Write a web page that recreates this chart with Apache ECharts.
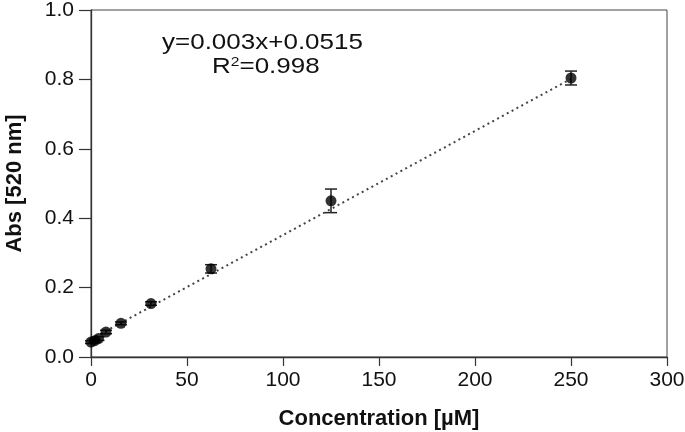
<!DOCTYPE html>
<html><head><meta charset="utf-8">
<script src="https://cdn.jsdelivr.net/npm/echarts@6/dist/echarts.min.js"></script>
<style>html,body{margin:0;padding:0;background:#fff}#c{width:685px;height:432px}</style>
</head><body><div id="c"></div>
<script>
var concentrations = [0, 1.95, 3.9, 7.8, 15.6, 31.25, 62.5, 125, 250];
var absorbance = [0.043, 0.047, 0.053, 0.072, 0.097, 0.154, 0.254, 0.450, 0.804];
var errors = [0.004, 0.004, 0.005, 0.005, 0.004, 0.005, 0.012, 0.034, 0.020];
var fitSlope = 0.003, fitIntercept = 0.0515;
var fitRange = [0, 250];
var yTicks = [0, 0.2, 0.4, 0.6, 0.8, 1.0];
var xTicks = [0, 50, 100, 150, 200, 250, 300];

var pts = concentrations.map(function(c,i){return [c, absorbance[i]];});
var errData = concentrations.map(function(c,i){return [c, absorbance[i]-errors[i], absorbance[i]+errors[i]];});
var fitData = fitRange.map(function(x){return [x, fitSlope*x+fitIntercept];});

var font = 'Liberation Sans, Arial, sans-serif';
var chart = echarts.init(document.getElementById('c'), null, {renderer:'canvas'});
chart.setOption({
  animation:false,
  grid:{left:91,right:18,top:10,bottom:75,show:true,borderColor:'#444',borderWidth:1,
    containLabel:false,outerBoundsMode:'none'},
  xAxis:{type:'value',min:0,max:300,interval:50,
    axisLine:{show:true,lineStyle:{color:'#333',width:1.3}},
    axisTick:{show:true,length:9,lineStyle:{color:'#333',width:1.2}},
    splitLine:{show:false},
    axisLabel:{color:'#111',fontSize:21,fontFamily:font,margin:13},
    name:'Concentration [µM]',nameLocation:'middle',nameGap:51,
    nameTextStyle:{color:'#111',fontSize:22,fontWeight:'bold',fontFamily:font}},
  yAxis:{type:'value',min:0,max:1,interval:0.2,
    axisLine:{show:true,lineStyle:{color:'#333',width:1.3}},
    axisTick:{show:true,length:12,lineStyle:{color:'#333',width:1.2}},
    splitLine:{show:false},
    axisLabel:{color:'#111',fontSize:21,fontFamily:font,margin:17,formatter:function(v){return v.toFixed(1);}},
    name:'Abs [520 nm]',nameLocation:'middle',nameGap:65,nameRotate:90,
    nameTextStyle:{color:'#111',fontSize:22,fontWeight:'bold',fontFamily:font}},
  series:[
    {type:'line',data:fitData,symbol:'none',z:1,
      lineStyle:{type:[2,3.5],color:'#444',width:2}},
    {type:'custom',z:3,data:errData,
      renderItem:function(params,api){
        var x=api.value(0);
        var lo=api.coord([x,api.value(1)]);
        var hi=api.coord([x,api.value(2)]);
        var hw=6;
        var st={stroke:'#222',lineWidth:1.5};
        return {type:'group',children:[
          {type:'line',shape:{x1:lo[0],y1:lo[1],x2:hi[0],y2:hi[1]},style:st},
          {type:'line',shape:{x1:lo[0]-hw,y1:lo[1],x2:lo[0]+hw,y2:lo[1]},style:st},
          {type:'line',shape:{x1:hi[0]-hw,y1:hi[1],x2:hi[0]+hw,y2:hi[1]},style:st}
        ]};
      }},
    {type:'scatter',data:pts,symbol:'circle',symbolSize:11,z:4,
      itemStyle:{color:'#000'}}
  ],
  graphic:[
    {type:'text',x:162,y:32,scaleX:1.3,scaleY:1.08,style:{text:'y=0.003x+0.0515',font:'20px '+font,fill:'#111'}},
    {type:'text',x:212,y:56,scaleX:1.3,scaleY:1.08,style:{text:'R{s|2}=0.998',font:'20px '+font,fill:'#111',
      rich:{s:{fontSize:12,verticalAlign:'top',padding:[0,0,8,0],fontFamily:font}}}}
  ]
});
</script></body></html>
